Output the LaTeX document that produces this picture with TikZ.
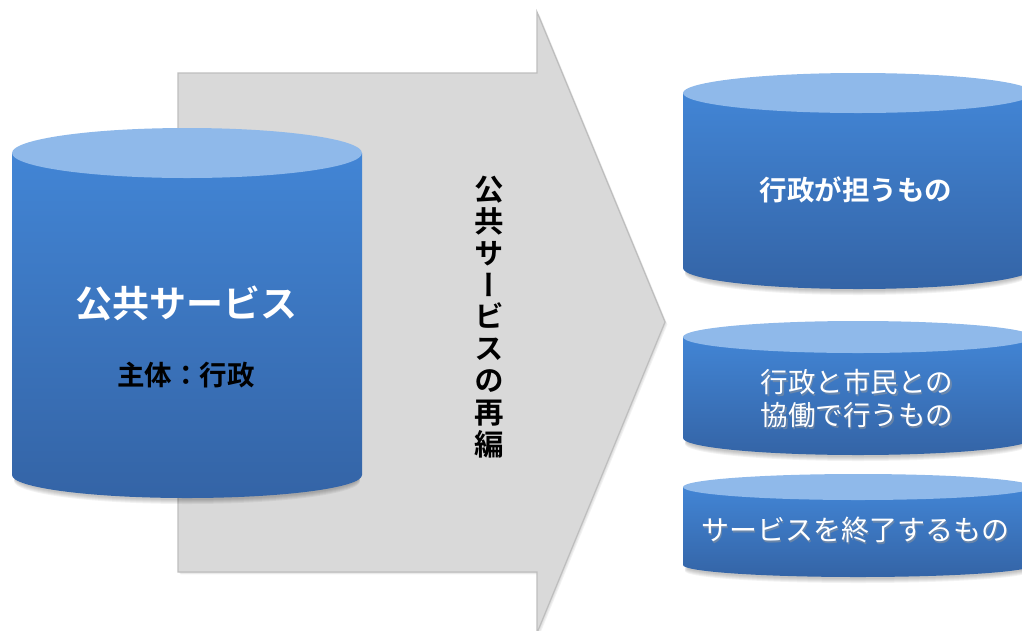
\documentclass[tikz,border=0pt]{standalone}
\usepackage{fontspec}
\newfontfamily\jp[BoldFont={Noto Sans CJK JP Bold}]{Noto Sans CJK JP}
\newfontfamily\jpv[RawFeature=+vert,BoldFont={Noto Sans CJK JP Bold},BoldFeatures={RawFeature=+vert}]{Noto Sans CJK JP}
\definecolor{cyltop}{RGB}{143,185,234}
\definecolor{cylsideA}{RGB}{66,133,213}
\definecolor{cylsideB}{RGB}{52,100,166}
\definecolor{arrowfill}{RGB}{217,217,217}
\definecolor{arrowline}{RGB}{190,190,190}
\tikzset{
  whitelabel/.style={text=white,font=\jp\bfseries,align=center,inner sep=0pt},
  blacklabel/.style={text=black,font=\jp\bfseries,align=center,inner sep=0pt},
  softlabel/.style={text=white,font=\jp,align=center,inner sep=0pt},
}
% cylinder: #1 left x, #2 right x, #3 top centre y, #4 top ry, #5 bottom centre y, #6 bottom ry
\newcommand{\mycyl}[6]{%
  \pgfmathsetmacro{\rx}{(#2-#1)/2}
  \pgfmathsetmacro{\cx}{(#1+#2)/2}
  % soft shadow
  \foreach \k in {1,...,5}{
    \fill[black,opacity=0.05] (\cx,#5+1+\k) ellipse[x radius=\rx-2, y radius=#6];
  }
  \shade[top color=cylsideA,bottom color=cylsideB]
    (#1,#3) -- (#1,#5) arc[start angle=180,end angle=360,x radius=\rx,y radius=-#6] -- (#2,#3) -- cycle;
  \fill[cyltop] (\cx,#3) ellipse[x radius=\rx, y radius=#4];
}
\begin{document}
\begin{tikzpicture}[x=1pt,y=-1pt]
\useasboundingbox (0,0) rectangle (1022,630);
% big arrow with shadow
\foreach \k in {1,2,3}{
\fill[black,opacity=0.05,xshift=\k*0.8,yshift=-\k*0.8]
  (178,73) -- (537,73) -- (537,12) -- (665,322) -- (537,633) -- (537,572) -- (178,572) -- cycle;
}
\draw[arrowline,fill=arrowfill,line width=1.2pt,line join=miter]
  (178,73) -- (537,73) -- (537,12) -- (665,322) -- (537,633) -- (537,572) -- (178,572) -- cycle;
\node[blacklabel,font=\jpv\bfseries\fontsize{29.5}{31.8}\selectfont] (flow) at (489,317)
  {公\\共\\サ\\ー\\ビ\\ス\\の\\再\\編};
% left cylinder
\mycyl{12}{362}{153}{25}{475}{23}
\node[whitelabel,font=\jp\bfseries\fontsize{37}{40}\selectfont] (pub) at (186,303) {公共サービス};
\node[blacklabel,font=\jp\bfseries\fontsize{27.5}{30}\selectfont] (subj) at (186,375) {主体：行政};
% right cylinders
\mycyl{683}{1033}{93}{20}{268}{21}
\node[whitelabel,font=\jp\bfseries\fontsize{27.5}{30}\selectfont] (gov) at (856,190) {行政が担うもの};
\mycyl{683}{1033}{337}{16}{438}{17}
\node[softlabel,text=black!40,opacity=0.5,font=\jp\fontsize{27.5}{33}\selectfont] (coopsh) at (858.5,400.5) {行政と市民との\\協働で行うもの};
\node[softlabel,font=\jp\fontsize{27.5}{33}\selectfont] (coop) at (857,399) {行政と市民との\\協働で行うもの};
\mycyl{683}{1033}{487}{13}{565}{12}
\node[softlabel,text=black!40,opacity=0.5,font=\jp\fontsize{28}{30}\selectfont] (endsh) at (856.5,531.5) {サービスを終了するもの};
\node[softlabel,font=\jp\fontsize{28}{30}\selectfont] (end) at (855,530) {サービスを終了するもの};
\end{tikzpicture}
\end{document}
